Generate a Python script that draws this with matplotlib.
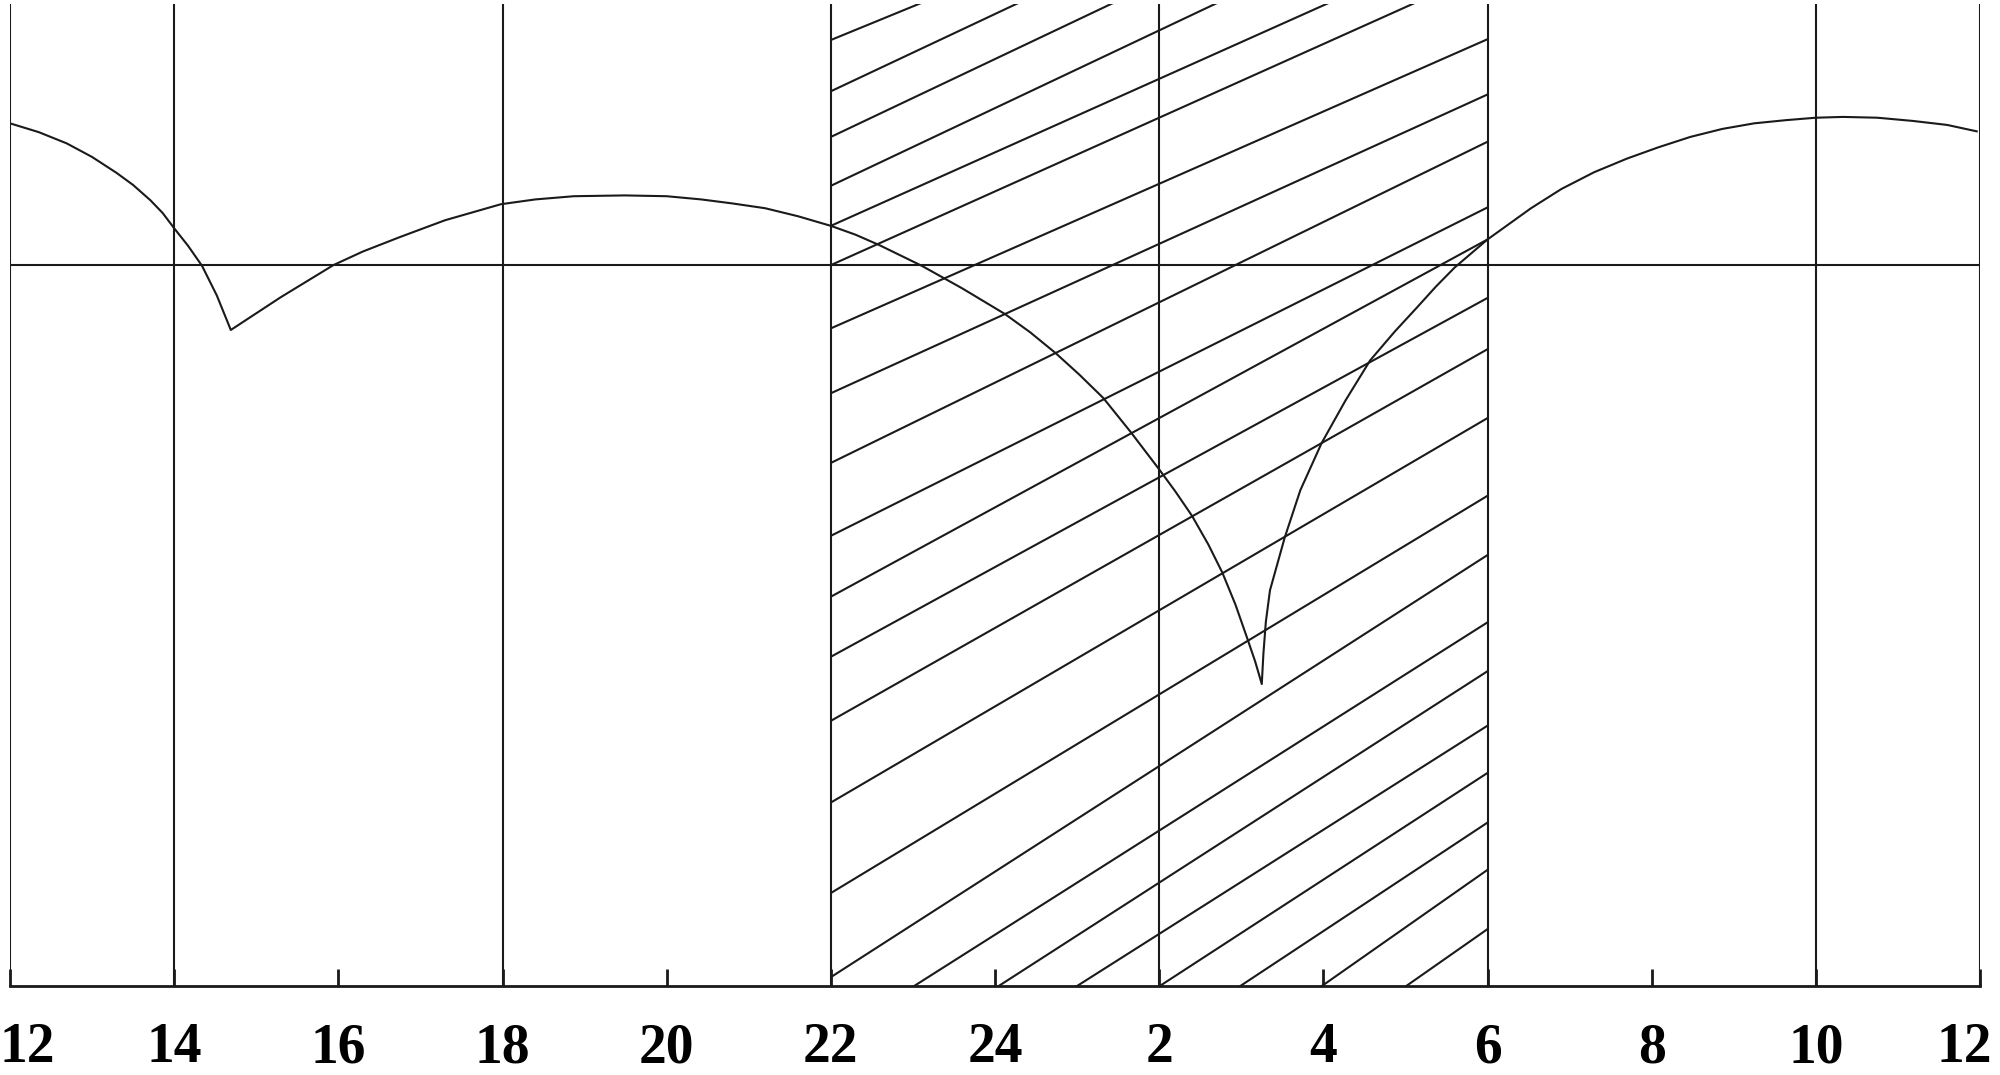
import matplotlib.pyplot as plt
from matplotlib.patches import Rectangle
from matplotlib.transforms import ScaledTranslation

# hours counted from noon: 12 .. 36 (36 = noon next day)
hours = list(range(12, 37, 2))
hour_labels = ['12', '14', '16', '18', '20', '22', '24', '2', '4', '6', '8', '10', '12']
full_lines = [12, 14, 18, 22, 26, 30, 34, 36]

# curve (hour, altitude)
curve_t = [12.00, 12.35, 12.69, 13.00, 13.30, 13.50, 13.71, 13.86, 14.00, 14.17, 14.34, 14.52, 14.69,
           15.30, 15.94, 16.30, 16.75, 17.30, 17.98, 18.40, 18.87, 19.49,
           20.00, 20.42, 20.80, 21.20, 21.60, 22.00, 22.30, 22.59, 22.85, 23.11, 23.60,
           24.12, 24.43, 24.74, 25.03, 25.32, 25.65, 26.00, 26.20, 26.40, 26.60, 26.77,
           26.93, 27.08, 27.17, 27.25,
           27.27, 27.30, 27.35, 27.53, 27.72, 27.98, 28.27, 28.57, 28.87, 29.14, 29.37, 29.60,
           30.00, 30.53, 30.90, 31.30, 31.70, 32.08, 32.47, 32.86, 33.25, 33.64, 34.00,
           34.33, 34.75, 35.18, 35.60, 35.96]
curve_y = [17.7, 16.6, 15.2, 13.5, 11.5, 10.0, 8.1, 6.5, 4.6, 2.4, -0.1, -3.8, -8.1,
           -4.0, 0.0, 1.7, 3.5, 5.6, 7.6, 8.2, 8.6, 8.7,
           8.6, 8.2, 7.7, 7.1, 6.1, 4.9, 3.8, 2.5, 1.2, -0.1, -2.9,
           -6.1, -8.4, -11.0, -13.7, -16.6, -20.8, -25.5, -28.3, -31.3, -34.9, -38.4,
           -42.4, -46.8, -49.5, -52.3,
           -48.5, -44.5, -40.6, -34.0, -28.1, -22.2, -16.9, -11.9, -8.3, -5.3, -2.7, -0.3,
           3.2, 7.1, 9.5, 11.6, 13.3, 14.7, 16.0, 17.0, 17.7, 18.1, 18.4,
           18.5, 18.4, 18.0, 17.5, 16.7]

# night band 22h - 6h, hatch lines given by their height at 22h and at 6h
night_start, night_end = 22, 30
hatch_y22 = [28.1, 21.7, 16.0, 9.9, 4.9, 0.0, -7.9, -16.0, -24.7, -33.8, -41.4, -48.9,
             -56.9, -67.1, -78.4, -88.9, -96.6, -103.5, -109.5, -116.7, -123.8, -133.0, -140.3]
hatch_y6 = [61.7, 60.3, 54.9, 48.7, 41.6, 36.8, 28.2, 21.3, 15.4, 7.2, 3.2, -4.1,
            -10.5, -19.1, -28.8, -36.2, -44.6, -50.7, -57.5, -63.4, -69.6, -75.5, -82.9]

ymin, ymax = -90, 32.6
col = '#1a1a1a'

fig = plt.figure(figsize=(20, 10.75), dpi=100)
ax = fig.add_axes([0.005, 0.0828, 0.985, 0.9135])
ax.set_xlim(12, 36)
ax.set_ylim(ymin, ymax)

for x in full_lines:
    ax.axvline(x, color=col, lw=1.5)
ax.axhline(0, color=col, lw=1.5)

clip = Rectangle((night_start, ymin), night_end - night_start, ymax - ymin,
                 transform=ax.transData, fill=False)
for a, b in zip(hatch_y22, hatch_y6):
    ln, = ax.plot([night_start, night_end], [a, b], color=col, lw=1.5)
    ln.set_clip_path(clip)

ax.plot(curve_t, curve_y, color=col, lw=1.5)

for s in ['top', 'left', 'right']:
    ax.spines[s].set_visible(False)
ax.spines['bottom'].set_linewidth(2)
ax.spines['bottom'].set_color(col)
ax.set_yticks([])
ax.set_xticks(hours)
ax.set_xticklabels(hour_labels, family='Liberation Serif', fontsize=40, weight='bold')
ax.tick_params(axis='x', direction='in', length=12, width=2, color=col, pad=26)
labs = ax.get_xticklabels()
labs[0].set_ha('left')
labs[0].set_transform(labs[0].get_transform() + ScaledTranslation(-0.1, 0, fig.dpi_scale_trans))
labs[-1].set_ha('right')
labs[-1].set_transform(labs[-1].get_transform() + ScaledTranslation(0.12, 0, fig.dpi_scale_trans))

plt.savefig('out.png', dpi=100)
